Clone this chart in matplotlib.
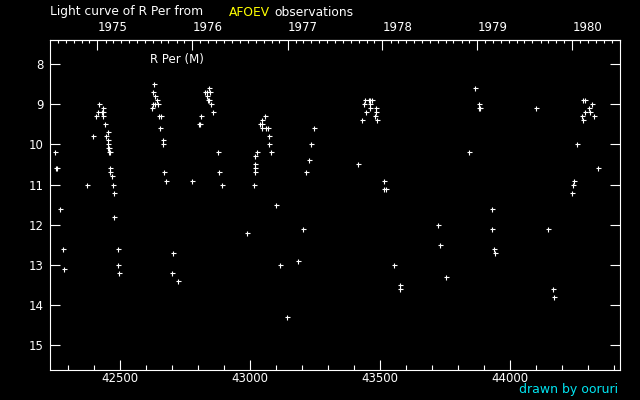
import matplotlib
matplotlib.use('Agg')
import matplotlib.pyplot as plt
from datetime import date

# ---- data: Julian Date - 2400000 and visual magnitude ----
jd = [42251, 42254, 42258, 42271, 42282, 42286,
      42374, 42397, 42409, 42417, 42420, 42432, 42436, 42436, 42436, 42444,
      42447, 42455, 42455, 42455, 42455, 42459, 42459, 42463, 42463, 42463,
      42471, 42474, 42478, 42478, 42494, 42494, 42497,
      42624, 42628, 42628, 42632, 42636, 42636, 42644, 42647, 42651, 42659,
      42655, 42667, 42667, 42671, 42678, 42701, 42705, 42724,
      42778, 42805, 42809, 42813, 42826, 42834, 42835, 42840, 42843, 42843,
      42847, 42851, 42859, 42878, 42882, 42894, 42990,
      43017, 43020, 43020, 43020, 43020, 43028, 43039, 43047, 43047, 43047,
      43059, 43063, 43070, 43074, 43074, 43082, 43101, 43117, 43144, 43186,
      43205, 43217, 43228, 43236, 43247,
      43416, 43432, 43440, 43443, 43447, 43459, 43463, 43469, 43463, 43463,
      43482, 43486, 43486, 43490, 43516, 43516, 43524, 43555, 43578, 43578,
      43724, 43732, 43755,
      43843, 43866, 43882, 43882, 43886, 43932, 43932, 43940, 43943,
      44101, 44147, 44166, 44170,
      44239, 44243, 44247, 44259, 44278, 44282, 44282, 44290, 44289, 44305,
      44309, 44316, 44324, 44340]
mag = [10.2, 10.6, 10.6, 11.6, 12.6, 13.1,
       11.0, 9.8, 9.3, 9.2, 9.0, 9.2, 9.2, 9.1, 9.3, 9.5,
       9.8, 9.7, 9.9, 10.0, 10.1, 10.1, 10.2, 10.2, 10.6, 10.7,
       10.8, 11.0, 11.2, 11.8, 12.6, 13.0, 13.2,
       9.1, 8.7, 9.0, 8.5, 8.8, 9.0, 8.9, 9.0, 9.3, 9.3,
       9.6, 9.9, 10.0, 10.7, 10.9, 13.2, 12.7, 13.4,
       10.9, 9.5, 9.5, 9.3, 8.7, 8.7, 8.8, 8.9, 8.9, 8.6,
       8.7, 9.0, 9.2, 10.2, 10.7, 11.0, 12.2,
       11.0, 10.3, 10.5, 10.6, 10.7, 10.2, 9.5, 9.5, 9.4, 9.6,
       9.3, 9.6, 9.6, 9.8, 10.0, 10.2, 11.5, 13.0, 14.3, 12.9,
       12.1, 10.7, 10.4, 10.0, 9.6,
       10.5, 9.4, 9.0, 8.9, 9.2, 8.9, 8.9, 8.9, 9.0, 9.1,
       9.3, 9.1, 9.2, 9.4, 10.9, 11.1, 11.1, 13.0, 13.5, 13.6,
       12.0, 12.5, 13.3,
       10.2, 8.6, 9.0, 9.1, 9.1, 11.6, 12.1, 12.6, 12.7,
       9.1, 12.1, 13.6, 13.8,
       11.2, 11.0, 10.9, 10.0, 9.3, 8.9, 9.4, 8.9, 9.2, 9.1,
       9.2, 9.0, 9.3, 10.6]

jd_major = [42500, 43000, 43500, 44000]
jd_minor = list(range(42300, 44500, 100))
mag_ticks = [8, 9, 10, 11, 12, 13, 14, 15]
years = [1975, 1976, 1977, 1978, 1979, 1980]


def to_jd(d):
    # JD - 2400000 at 0h UT
    return (d - date(1858, 11, 17)).days + 0.5


year_jd = [to_jd(date(y, 1, 1)) for y in years]
month_jd = [to_jd(date(y, m, 1)) for y in range(1974, 1982) for m in range(1, 13)]
month_jd = [v for v in month_jd if 42231 <= v <= 44423]

W, H = 640, 400
fig = plt.figure(figsize=(6.4, 4), dpi=100, facecolor='black')
ax = fig.add_axes([50 / W, 30 / H, 570 / W, 330 / H], facecolor='black')

ax.plot(jd, mag, linestyle='none', marker='+', ms=3.6, mew=0.8,
        color='white', antialiased=False)

ax.set_xlim(42231, 44423)
ax.set_ylim(15.62, 7.4)

for s in ax.spines.values():
    s.set_color('white')
    s.set_linewidth(0.8)

ax.set_xticks(jd_major)
ax.set_xticks(jd_minor, minor=True)
ax.set_yticks(mag_ticks)
ax.tick_params(axis='x', which='major', direction='in', length=7.2, width=0.8,
               colors='white', labelsize=8.5, pad=1.5, top=False)
ax.tick_params(axis='x', which='minor', direction='in', length=3.6, width=0.8,
               colors='white', top=False)
ax.tick_params(axis='y', which='major', direction='in', length=7.2, width=0.8,
               colors='white', labelsize=8.5, pad=4.3, left=True, right=True,
               labelleft=True, labelright=False)
ax.tick_params(axis='y', which='minor', left=False, right=False)

sec = ax.secondary_xaxis('top')
sec.set_xticks(year_jd, labels=[str(y) for y in years], ha='left')
sec.set_xticks(month_jd, minor=True)
sec.tick_params(which='major', direction='in', length=7.2, width=0.8,
                colors='white', labelsize=8.5, pad=4)
sec.tick_params(which='minor', direction='in', length=2.4, width=0.8,
                colors='white')
sec.spines['top'].set_color('white')
sec.spines['top'].set_linewidth(0.8)

ty = 1 - 12 / H
fig.text(50 / W, ty, 'Light curve of R Per from', color='white',
         fontsize=8.8, va='center', ha='left')
fig.text(229 / W, ty, 'AFOEV', color='#ffff00', fontsize=8.8,
         va='center', ha='left')
fig.text(274 / W, ty, 'observations', color='white', fontsize=8.8,
         va='center', ha='left')
fig.text(150 / W, 1 - 60 / H, 'R Per (M)', color='white', fontsize=8.5,
         va='center', ha='left')
fig.text(618 / W, 1 - 390 / H, 'drawn by ooruri', color='#00e4f0',
         fontsize=9, va='center', ha='right')

fig.savefig('out.png', dpi=100, facecolor='black')
